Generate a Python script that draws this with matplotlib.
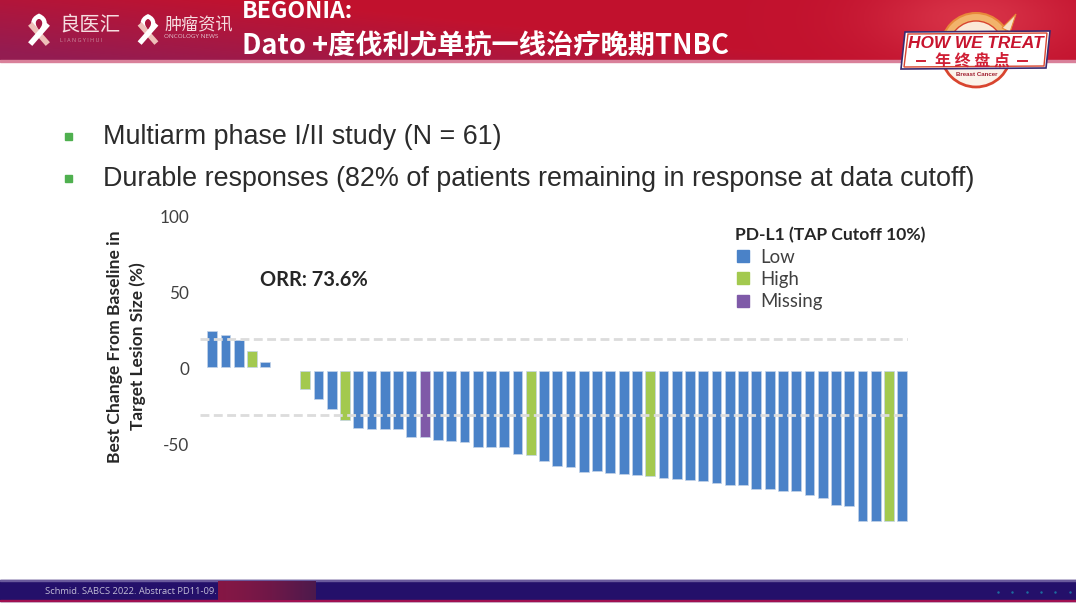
import numpy as np
import matplotlib
matplotlib.use("Agg")
import matplotlib.pyplot as plt
from matplotlib.patches import Circle, Polygon, Rectangle, PathPatch, Wedge
from matplotlib.path import Path

CJK = ["Noto Sans CJK SC", "DejaVu Sans"]
plt.rcParams["axes.unicode_minus"] = False

# Best change from baseline per patient, 0 = no visible bar
changes = [25.2, 22.4, 19, 11.8, 4.4, 0, 0,
           -13, -20, -26, -33.3, -39, -39.7, -39.7, -39.7, -44.7, -45,
           -46.7, -47.6, -47.8, -51, -51.3, -51.3, -56, -56.4, -60.5, -63.6,
           -64.7, -67.5, -67.3, -68.2, -68.9, -69.7, -70.2, -71.7, -72.4, -73,
           -73.9, -75.2, -76.3, -76.3, -79, -79.2, -80.5, -80.3, -82.9, -84.9,
           -89.3, -90.4, -100, -100, -100, -100]
high_idx = [3, 7, 10, 24, 33, 51]
missing_idx = [16]
legend_labels = ["Low", "High", "Missing"]
y_ticks = [100, 50, 0, -50]
ref_lines = [20, -30]
bullets = ["Multiarm phase I/II study (N = 61)",
           "Durable responses (82% of patients remaining in response at data cutoff)"]

BLUE = "#4a82c8"
GREEN = "#a3c94f"
PURPLE = "#7f5aa8"
W, H = 1076, 605

fig = plt.figure(figsize=(W / 100, H / 100), dpi=100, facecolor="white")

# overlay in pixel coordinates for the slide furniture
bg = fig.add_axes([0, 0, 1, 1])
bg.axis("off")


def lerp(a, b, t):
    return np.array(a) + (np.array(b) - np.array(a)) * t[..., None]


# header gradient
xx, yy = np.meshgrid(np.linspace(0, 1, 300), np.linspace(0, 1, 40))
left_mix = np.clip((yy * 0.75 + (1 - xx * 4) * 0.35), 0, 1)
head = lerp((0.76, 0.07, 0.18), (0.58, 0.11, 0.32), left_mix)
glow = np.exp(-(((xx - 0.905) / 0.09) ** 2 + ((yy - 0.3) / 0.7) ** 2))
head = head + (np.array([0.95, 0.35, 0.40]) - head) * (glow * 0.45)[..., None]
bg.imshow(head, extent=(0, W, 60, 0), aspect="auto", zorder=1)
bg.add_patch(Rectangle((0, 60), W, 1.5, color="#d9809a", zorder=2))

# footer
bg.add_patch(Rectangle((0, 580), W, 21, color="#24106a", zorder=1))
bg.add_patch(Rectangle((0, 580), W, 1, color="#6a5a9c", zorder=2))
bg.add_patch(Rectangle((0, 600), W, 1, color="#a01050", zorder=2))
foot = lerp((0.52, 0.09, 0.27), (0.30, 0.10, 0.30),
            np.linspace(0, 1, 60)[None, :].repeat(2, axis=0) ** 1.5)
bg.imshow(foot, extent=(218, 316, 600, 581), aspect="auto", zorder=2)
bg.set_xlim(0, W)
bg.set_ylim(H, 0)
bg.text(45, 592, "Schmid. SABCS 2022. Abstract PD11-09.", color="#c2bdd6",
        fontsize=6.75, family="Open Sans", va="center", zorder=3)
for px in [998, 1012, 1027, 1041, 1055, 1070]:
    bg.plot([px], [592], ".", ms=1.5, color="#1d6f9f", zorder=3)


def ribbon(x, y, s):
    # awareness ribbon, two crossing bands
    loop = Path([(x, y + 10 * s), (x - 11 * s, y - 3 * s), (x, y - 8 * s), (x + 11 * s, y - 3 * s), (x, y + 10 * s)],
                [Path.MOVETO, Path.CURVE3, Path.CURVE3, Path.CURVE3, Path.CURVE3])
    bg.add_patch(PathPatch(loop, fc="none", ec="white", lw=3.2 * s, zorder=3))
    bg.plot([x - 7 * s, x + 7 * s], [y + 2 * s, y + 18 * s], color="#eebfb8", lw=4 * s, zorder=3)
    bg.plot([x + 7 * s, x - 7 * s], [y + 2 * s, y + 18 * s], color="white", lw=4 * s, zorder=4)


ribbon(39, 24, 1.0)
ribbon(148, 24, 0.95)
bg.text(59, 25, "良医汇", color="#f6dde0", fontsize=14.7, family=CJK, va="center", zorder=3)
bg.text(60, 41, "L I A N G Y I H U I", color="#c98a9f", fontsize=4, family="Open Sans", va="center", zorder=3)
bg.text(164, 25, "肿瘤资讯", color="#f6dde0", fontsize=12.3, family=CJK, va="center", zorder=3)
bg.text(164, 36.5, "ONCOLOGY NEWS", color="#e3c0cc", fontsize=4.6, family="Open Sans", va="center", zorder=3)
bg.text(242, 12, "BEGONIA:", color="white", fontsize=16.6, family=CJK, weight="bold", va="center", zorder=3)
bg.text(242, 46, "Dato +度伐利尤单抗一线治疗晚期TNBC", color="white", fontsize=19.6, family=CJK,
        weight="bold", va="center", zorder=3)

# badge, y axis is flipped so the arch runs 180..360
bg.add_patch(Circle((976, 52), 35, fc="#fbf3ea", ec="#d8452f", lw=2, zorder=3))
bg.add_patch(Wedge((976, 48), 35, 180, 360, fc="#f2b36b", ec="#e8893a", lw=1.5, zorder=3))
bg.add_patch(Wedge((976, 48), 27, 180, 360, fc="#fbe9d6", ec="#d8452f", lw=1, zorder=3))
bg.add_patch(Polygon([(1002, 28), (1016, 14), (1010, 32)], closed=True, fc="#f6e3c8", ec="#e8893a", lw=0.8, zorder=3))
bg.add_patch(Polygon([(905, 32), (1050, 31), (1046, 68), (901, 69)], closed=True,
                     fc="white", ec="#3a2a70", lw=1.2, zorder=4))
bg.add_patch(Polygon([(908, 34), (1047, 33), (1044, 66), (904, 67)], closed=True,
                     fc="none", ec="#d8452f", lw=1, zorder=4))
bg.text(975.5, 43, "HOW WE TREAT", color="#c8142e", fontsize=12.4, family="Liberation Sans",
        weight="bold", style="italic", ha="center", va="center", zorder=5)
bg.text(972, 60.5, "年 终 盘 点", color="#d01f35", fontsize=11.5, family=CJK, weight="bold",
        ha="center", va="center", zorder=5)
bg.plot([917, 925], [61, 61], color="#d01f35", lw=1.4, zorder=5)
bg.plot([1018, 1027], [61, 61], color="#d01f35", lw=1.4, zorder=5)
bg.text(977, 74.5, "Breast Cancer", color="#a02030", fontsize=4.4, family="Liberation Sans",
        weight="bold", ha="center", va="center", zorder=5)

# bullets
for y, txt in zip([136, 178], bullets):
    bg.add_patch(Rectangle((65, y - 3.5), 7, 7, color="#4fb04f", zorder=3))
    bg.text(103, y + 1.5, txt, color="#2b2b2b", fontsize=19.4, family="Liberation Sans", va="center", zorder=3)

# chart, ylim spans 217..521 px of the slide
x0, x1, ytop, ybot = 200, 908, 217, 521
ax = fig.add_axes([x0 / W, 1 - ybot / H, (x1 - x0) / W, (ybot - ytop) / H])
ax.patch.set_alpha(0)
ax.set_xlim((x0 - 212.3) / 13.27, (x1 - 212.3) / 13.27)
ax.set_ylim(-100, 100)

colors = [BLUE] * len(changes)
for i in high_idx:
    colors[i] = GREEN
for i in missing_idx:
    colors[i] = PURPLE

# bars start a hair off the zero line, as on the slide
gap = 1
for i, v in enumerate(changes):
    if v == 0:
        continue
    base = gap if v > 0 else -gap
    ax.bar(i, v - base, bottom=base, width=0.74, color=colors[i], edgecolor="#c4d4e8",
           linewidth=0.5, zorder=2, clip_on=False)
for v in ref_lines:
    ax.axhline(v, color="#dcdcdc", lw=2, dashes=(3.2, 1.6), zorder=3)

ax.set_xticks([])
ax.set_yticks(y_ticks)
ax.tick_params(axis="y", length=0, pad=8, labelsize=12.3, labelcolor="#404040")
for lab in ax.get_yticklabels():
    lab.set_family("Lato")
for s in ax.spines.values():
    s.set_visible(False)

fig.text(115 / W, 1 - 347 / H, "Best Change From Baseline in", rotation=90, ha="center", va="center",
         fontsize=12.6, family="Lato", weight="bold", color="#262626")
fig.text(138 / W, 1 - 346 / H, "Target Lesion Size (%)", rotation=90, ha="center", va="center",
         fontsize=12.4, family="Lato", weight="bold", color="#262626")
fig.text(260 / W, 1 - 280 / H, "ORR: 73.6%", fontsize=14.4, family="Lato", weight="bold",
         va="center", color="#262626")

# legend
fig.text(735 / W, 1 - 235 / H, "PD-L1 (TAP Cutoff 10%)", fontsize=12.6, family="Lato", weight="bold",
         va="center", color="#262626")
for y, lab, c in zip([256, 278, 301], legend_labels, [BLUE, GREEN, PURPLE]):
    bg.add_patch(Rectangle((737, y - 6), 12, 12, color=c, zorder=3))
    fig.text(760 / W, 1 - (y + 1) / H, lab, fontsize=13.4, family="Lato", va="center", color="#404040")

fig.savefig("out.png", dpi=100)
